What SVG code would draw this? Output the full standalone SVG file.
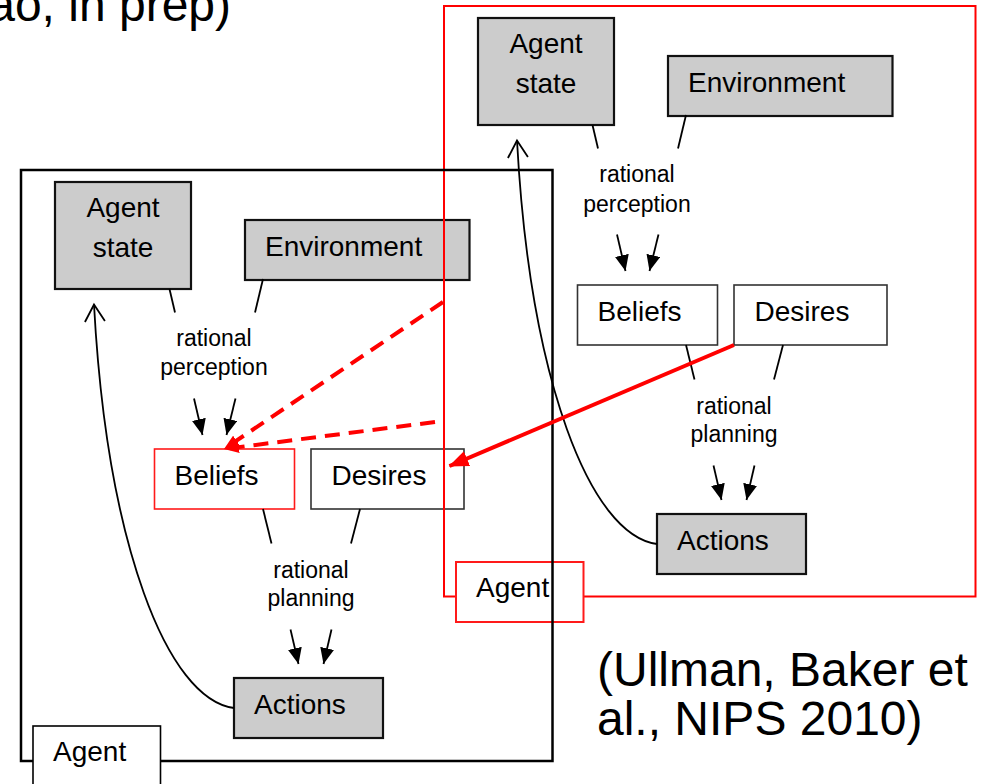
<svg xmlns="http://www.w3.org/2000/svg" width="983" height="784" viewBox="0 0 983 784">
  <style>
    text { font-family: "Liberation Sans", Arial, sans-serif; fill: #000; }
    .cite { font-size: 48px; }
    .lbl { font-size: 28px; }
    .sm { font-size: 23px; text-anchor: middle; }
    .grey { fill: #cccccc; stroke: #111; stroke-width: 2.2; }
    .white { fill: #fff; stroke: #333; stroke-width: 1.6; }
    .redbox { fill: #fff; stroke: #ff1a1a; stroke-width: 1.6; }
    .link { stroke: #000; stroke-width: 1.8; fill: none; }
    .flow { stroke: #000; stroke-width: 1.8; fill: none; marker-end: url(#headFill); }
    .loop { stroke: #000; stroke-width: 1.8; fill: none; marker-end: url(#headOpen); }
    .redDash { stroke: #ff0000; stroke-width: 4; fill: none; stroke-dasharray: 15 9; marker-end: url(#headRedSmall); }
    .redSolid { stroke: #ff0000; stroke-width: 4; fill: none; marker-end: url(#headRed); }
  </style>
  <defs>
    <marker id="headFill" markerUnits="userSpaceOnUse" viewBox="0 0 16 14" markerWidth="16" markerHeight="14" refX="16" refY="7" orient="auto">
      <path d="M0,0 L16,7 L0,14 z" fill="#000"/>
    </marker>
    <marker id="headOpen" markerUnits="userSpaceOnUse" viewBox="0 0 20 24" markerWidth="20" markerHeight="24" refX="18" refY="12" orient="auto" overflow="visible">
      <path d="M1,2 L18,12 L1,22" fill="none" stroke="#000" stroke-width="1.8"/>
    </marker>
    <marker id="headRed" markerUnits="userSpaceOnUse" viewBox="0 0 20 16" markerWidth="20" markerHeight="16" refX="19" refY="8" orient="auto">
      <path d="M0,0 L20,8 L0,16 z" fill="#ff0000"/>
    </marker>
    <marker id="headRedSmall" markerUnits="userSpaceOnUse" viewBox="0 0 15 12" markerWidth="15" markerHeight="12" refX="15" refY="6" orient="auto">
      <path d="M0,0 L15,6 L0,12 z" fill="#ff0000"/>
    </marker>
  </defs>

  <!-- citations -->
  <text class="cite" x="231" y="21" text-anchor="end">ao, in prep)</text>
  <text class="cite" x="597" y="686">(Ullman, Baker et</text>
  <text class="cite" x="597" y="735">al., NIPS 2010)</text>

  <!-- observer model (left) -->
  <g id="left-agent-state">
    <rect class="grey" x="55" y="182" width="136" height="107"/>
    <text class="lbl" x="123" y="217" text-anchor="middle">Agent</text>
    <text class="lbl" x="123" y="257" text-anchor="middle">state</text>
  </g>
  <g id="left-environment">
    <rect class="grey" x="245" y="220" width="224.5" height="60"/>
    <text class="lbl" x="265" y="256">Environment</text>
  </g>
  <g id="left-beliefs">
    <rect class="redbox" x="154.5" y="449" width="140" height="60"/>
    <text class="lbl" x="174.5" y="485">Beliefs</text>
  </g>
  <g id="left-desires">
    <rect class="white" x="311" y="449" width="153" height="60"/>
    <text class="lbl" x="331.5" y="485">Desires</text>
  </g>
  <g id="left-actions">
    <rect class="grey" x="234" y="678" width="149" height="60"/>
    <text class="lbl" x="254" y="713.5">Actions</text>
  </g>

  <!-- observed agent (right) -->
  <g id="right-frame">
    <rect x="444" y="6" width="531.5" height="590.5" fill="none" stroke="#ff0000" stroke-width="2"/>
  </g>
  <g id="right-agent-state">
    <rect class="grey" x="478" y="18" width="136" height="107"/>
    <text class="lbl" x="546" y="53" text-anchor="middle">Agent</text>
    <text class="lbl" x="546" y="93" text-anchor="middle">state</text>
  </g>
  <g id="right-environment">
    <rect class="grey" x="668" y="56" width="224.5" height="60"/>
    <text class="lbl" x="688" y="92">Environment</text>
  </g>
  <g id="right-beliefs">
    <rect class="white" x="577.5" y="285" width="140" height="60"/>
    <text class="lbl" x="597.5" y="321">Beliefs</text>
  </g>
  <g id="right-desires">
    <rect class="white" x="734" y="285" width="153" height="60"/>
    <text class="lbl" x="754.5" y="321">Desires</text>
  </g>
  <g id="right-actions">
    <rect class="grey" x="657" y="514" width="149" height="60"/>
    <text class="lbl" x="677" y="549.5">Actions</text>
  </g>
  <g id="right-agent-label">
    <rect x="456" y="562" width="127.5" height="60" fill="#fff" stroke="#ff1a1a" stroke-width="2"/>
    <text class="lbl" x="476" y="597">Agent</text>
  </g>

  <g id="left-frame">
    <rect x="21" y="170" width="531.5" height="591" fill="none" stroke="#000" stroke-width="2.5"/>
  </g>
  <g id="left-agent-label">
    <rect x="33" y="726" width="127.5" height="70" fill="#fff" stroke="#000" stroke-width="1.6"/>
    <text class="lbl" x="53" y="761">Agent</text>
  </g>

  <!-- connectors -->
  <g id="connectors">
    <!-- left: perception -->
    <path class="link" d="M169.5,289 L175,312.5"/>
    <path class="link" d="M263,279 L255,312.5"/>
    <text class="sm" x="214" y="345.5">rational</text>
    <text class="sm" x="214" y="375">perception</text>
    <path class="flow" d="M194,398.5 L202.5,435"/>
    <path class="flow" d="M235.5,398.5 L226.5,435"/>
    <!-- left: planning -->
    <path class="link" d="M263,509 L271.5,543.5"/>
    <path class="link" d="M360,509 L351,543.5"/>
    <text class="sm" x="311" y="577.5">rational</text>
    <text class="sm" x="311" y="606">planning</text>
    <path class="flow" d="M290.5,629.5 L298.5,664"/>
    <path class="flow" d="M331.5,629.5 L323.5,664"/>
    <!-- left: action updates agent state -->
    <path class="loop" d="M234,708 C167,699 107,544 94,304.5"/>

    <!-- right: perception -->
    <path class="link" d="M592.5,125 L598,148.5"/>
    <path class="link" d="M686,115 L678,148.5"/>
    <text class="sm" x="637" y="182">rational</text>
    <text class="sm" x="637" y="211.5">perception</text>
    <path class="flow" d="M617,234.5 L625.5,271"/>
    <path class="flow" d="M658.5,234.5 L649.5,271"/>
    <!-- right: planning -->
    <path class="link" d="M686,345 L694.5,379.5"/>
    <path class="link" d="M783,345 L774,379.5"/>
    <text class="sm" x="734" y="413.5">rational</text>
    <text class="sm" x="734" y="442">planning</text>
    <path class="flow" d="M713.5,465.5 L721.5,500"/>
    <path class="flow" d="M754.5,465.5 L746.5,500"/>
    <!-- right: action updates agent state -->
    <path class="loop" d="M657,544 C590,535 530,380 517,140.5"/>

    <!-- inference links between the two models -->
    <path class="redDash" d="M443,302 L224,449"/>
    <path class="redDash" d="M435,422 L224,449"/>
    <path class="redSolid" d="M734,345 L449.5,466"/>
  </g>
</svg>
